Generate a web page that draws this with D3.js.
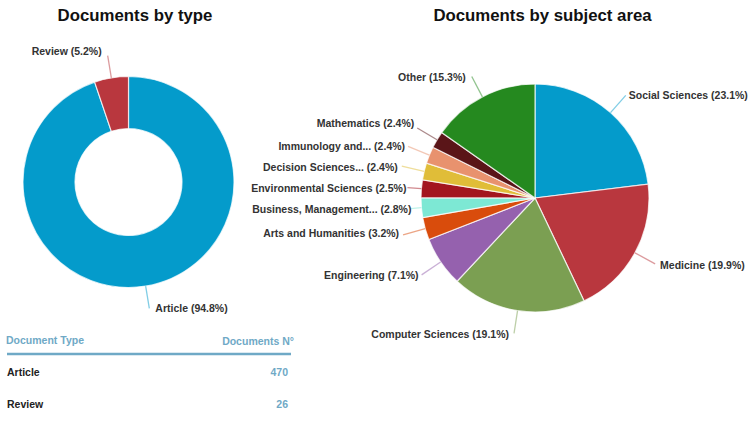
<!DOCTYPE html>
<html>
<head>
<meta charset="utf-8">
<script src="https://cdn.jsdelivr.net/npm/d3@7"></script>
<style>
  html, body { margin: 0; padding: 0; background: #fff; }
  svg { display: block; font-family: "Liberation Sans", Arial, sans-serif; }
  .title { font-size: 16.8px; font-weight: bold; fill: #111; text-anchor: middle; }
  .label { font-size: 10.5px; font-weight: bold; fill: #333; }
  .table-head { font-size: 10.5px; font-weight: bold; fill: #6fa9c6; }
  .table-name { font-size: 10.5px; font-weight: bold; fill: #222; }
  .table-count { font-size: 10.5px; font-weight: bold; fill: #6fa9c6; text-anchor: end; }
</style>
</head>
<body>
<svg id="chart" width="750" height="429"></svg>
<script>
// values
const typeNames = ["Article", "Review"];
const typeShares = [94.8, 5.2];
const typeCounts = [470, 26];

const subjectNames = [
  "Social Sciences", "Medicine", "Computer Sciences", "Engineering",
  "Arts and Humanities", "Business, Management...", "Environmental Sciences",
  "Decision Sciences...", "Immunology and...", "Mathematics", "Other"
];
const subjectShares = [23.1, 19.9, 19.1, 7.1, 3.2, 2.8, 2.5, 2.4, 2.4, 2.4, 15.3];

const typeColors = ["#049bcb", "#b9373e"];
const subjectColors = [
  "#049bcb", "#b9373e", "#7b9f52", "#9561ae", "#d94c0c", "#7de8d4",
  "#a3161f", "#e0bd38", "#e8926e", "#5a1518", "#25891f"
];

const svg = d3.select("#chart");

// leaders on these two are shorter because the labels are so long
const shortLeader = { "Environmental Sciences": 128, "Business, Management...": 125 };

// hand tweaks so labels sit where the original layout put them
const labelNudge = {
  "Article": [3, 0], "Review": [-3, -4],
  "Other": [-3, 1], "Mathematics": [0, -5], "Computer Sciences": [-2, 1],
  "Medicine": [2, 1], "Business, Management...": [4, 1],
  "Environmental Sciences": [2, 1], "Arts and Humanities": [-1, -2],
  "Decision Sciences...": [-1, 1]
};

function drawPie(opts) {
  const { names, shares, colors, cx, cy, outer, inner, leader } = opts;
  const g = svg.append("g").attr("transform", `translate(${cx},${cy})`);
  const pie = d3.pie().sort(null).value(d => d.share);
  const arc = d3.arc().innerRadius(inner).outerRadius(outer);
  const arcs = pie(names.map((name, i) => ({ name, share: shares[i], color: colors[i] })));

  g.selectAll("path.slice")
    .data(arcs)
    .enter().append("path")
    .attr("class", "slice")
    .attr("d", arc)
    .attr("fill", d => d.data.color)
    .attr("stroke", "#fff")
    .attr("stroke-opacity", 0.75)
    .attr("stroke-width", 1.2);

  const mid = d => (d.startAngle + d.endAngle) / 2;
  const at = (d, r) => [Math.sin(mid(d)) * r, -Math.cos(mid(d)) * r];
  const reach = d => shortLeader[d.data.name] || leader;
  const nudge = d => labelNudge[d.data.name] || [0, 0];

  g.selectAll("line.leader")
    .data(arcs)
    .enter().append("line")
    .attr("class", "leader")
    .attr("x1", d => at(d, outer)[0])
    .attr("y1", d => at(d, outer)[1])
    .attr("x2", d => at(d, reach(d))[0])
    .attr("y2", d => at(d, reach(d))[1])
    .attr("stroke", d => d.data.color)
    .attr("stroke-opacity", 0.5)
    .attr("stroke-width", 1.3);

  g.selectAll("text.label")
    .data(arcs)
    .enter().append("text")
    .attr("class", "label")
    .attr("x", d => at(d, reach(d))[0] + (mid(d) < Math.PI ? 3 : -3) + nudge(d)[0])
    .attr("y", d => at(d, reach(d))[1] + nudge(d)[1])
    .attr("dy", "0.35em")
    .attr("text-anchor", d => mid(d) < Math.PI ? "start" : "end")
    .text(d => `${d.data.name} (${d.data.share}%)`);
}

svg.append("text").attr("class", "title").attr("x", 135).attr("y", 21).text("Documents by type");
svg.append("text").attr("class", "title").attr("x", 542.5).attr("y", 21).text("Documents by subject area");

drawPie({ names: typeNames, shares: typeShares, colors: typeColors, cx: 128.5, cy: 182, outer: 105.5, inner: 53.5, leader: 128 });
drawPie({ names: subjectNames, shares: subjectShares, colors: subjectColors, cx: 535, cy: 198, outer: 114, inner: 0, leader: 137 });

// little table under the donut
const rowY = d3.scalePoint().domain(typeNames).range([376, 408]);

svg.append("text").attr("class", "table-head").attr("x", 6).attr("y", 344).text("Document Type");
svg.append("text").attr("class", "table-head").attr("x", 294).attr("y", 345).attr("text-anchor", "end").text("Documents N°");
svg.append("line")
  .attr("x1", 7).attr("x2", 291).attr("y1", 354).attr("y2", 354)
  .attr("stroke", "#6fa9c6").attr("stroke-width", 2.4);

svg.selectAll("text.table-name")
  .data(typeNames)
  .enter().append("text")
  .attr("class", "table-name")
  .attr("x", 7)
  .attr("y", d => rowY(d))
  .text(d => d);

svg.selectAll("text.table-count")
  .data(typeCounts)
  .enter().append("text")
  .attr("class", "table-count")
  .attr("x", 288)
  .attr("y", (d, i) => rowY(typeNames[i]))
  .text(d => d);
</script>
</body>
</html>
